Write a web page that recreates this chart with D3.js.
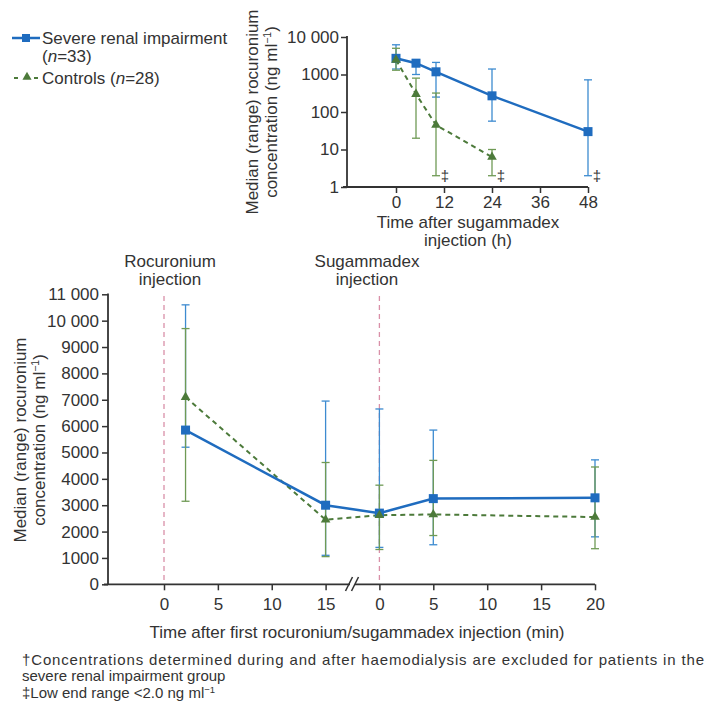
<!DOCTYPE html>
<html><head><meta charset="utf-8">
<script src="https://cdn.jsdelivr.net/npm/d3@7"></script>
<style>body{margin:0;background:#fff}svg{display:block}text{font-family:"Liberation Sans",Arial,sans-serif;fill:#333}</style>
</head><body>
<script>
// ---------- DATA ----------
// Top panel (log scale): time after sugammadex (h)
const topSevereHours = [0, 5, 10, 24, 48];
const topSevereMedian = [2700, 2000, 1180, 270, 30];
const topSevereLow = [1400, 1000, 250, 57, 2];
const topSevereHigh = [6200, 2500, 2100, 1400, 720];
const topControlHours = [0, 5, 10, 24];
const topControlMedian = [2450, 300, 45, 6.3];
const topControlLow = [1300, 20, 2, 2];
const topControlHigh = [5000, 800, 320, 10];
const daggerHours = [10, 24, 48];
const topXTicks = [0, 12, 24, 36, 48];
const topYTicks = [1, 10, 100, 1000, 10000];

// Bottom panel: time after first rocuronium / sugammadex injection (min)
const bottomPhase = ["roc", "roc", "sug", "sug", "sug"];
const bottomMinutes = [2, 15, 0, 5, 20];
const bottomSevereMedian = [5850, 3000, 2700, 3250, 3280];
const bottomSevereLow = [5200, 1100, 1400, 1500, 1800];
const bottomSevereHigh = [10600, 6950, 6650, 5850, 4720];
const bottomControlMedian = [7100, 2450, 2620, 2650, 2550];
const bottomControlLow = [3150, 1050, 1320, 1850, 1350];
const bottomControlHigh = [9700, 4620, 3760, 4700, 4450];
const rocTicks = [0, 5, 10, 15];
const sugTicks = [0, 5, 10, 15, 20];
const bottomYTicks = d3.range(0, 11001, 1000);

const BLUE = "#1f6cbf", BLUE_BAR = "#3d8bd0";
const GREEN = "#4c7a3a", GREEN_BAR = "#6f9a55";
const FONT = 17;

const svg = d3.select("body").append("svg").attr("width", 712).attr("height", 704);
svg.append("rect").attr("width", 712).attr("height", 704).attr("fill", "#fff");

const fmt = d => d >= 10000 ? d3.format(",")(d).replace(/,/g, " ") : String(d);

function styleAxis(g) {
  g.selectAll("path.domain").remove();
  g.selectAll(".tick line").attr("stroke", "#333").attr("stroke-width", 1.5);
  g.selectAll(".tick text").attr("font-size", FONT).attr("fill", "#333")
    .attr("font-family", '"Liberation Sans",Arial,sans-serif');
}

// ---------- LEGEND ----------
const leg = svg.append("g");
leg.append("line").attr("x1", 12).attr("x2", 40).attr("y1", 38).attr("y2", 38).attr("stroke", BLUE).attr("stroke-width", 2.5);
leg.append("rect").attr("x", 22).attr("y", 34).attr("width", 8).attr("height", 8).attr("fill", BLUE);
leg.append("text").attr("x", 42).attr("y", 44).attr("font-size", FONT).text("Severe renal impairment");
const t2 = leg.append("text").attr("x", 42).attr("y", 62).attr("font-size", FONT);
t2.append("tspan").text("(");
t2.append("tspan").attr("font-style", "italic").text("n");
t2.append("tspan").text("=33)");
leg.append("line").attr("x1", 14).attr("x2", 40).attr("y1", 78).attr("y2", 78).attr("stroke", GREEN).attr("stroke-width", 2).attr("stroke-dasharray", "4,6");
leg.append("path").attr("d", d3.symbol(d3.symbolTriangle, 36)()).attr("transform", "translate(27,77)").attr("fill", GREEN);
const t3 = leg.append("text").attr("x", 42).attr("y", 84).attr("font-size", FONT);
t3.append("tspan").text("Controls (");
t3.append("tspan").attr("font-style", "italic").text("n");
t3.append("tspan").text("=28)");

// ---------- TOP PANEL ----------
const xT = d3.scaleLinear().domain([0, 48]).range([396, 588]);
const yT = d3.scaleLog().domain([1, 10000]).range([187, 37]);
const topG = svg.append("g");
topG.append("line").attr("x1", 343).attr("x2", xT(48)).attr("y1", 187).attr("y2", 187).attr("stroke", "#333").attr("stroke-width", 1.8);
topG.append("line").attr("x1", 347).attr("x2", 347).attr("y1", 36).attr("y2", 188).attr("stroke", "#333").attr("stroke-width", 1.8);
const gxT = topG.append("g").attr("transform", "translate(0,187)")
  .call(d3.axisBottom(xT).tickValues(topXTicks).tickSize(6).tickPadding(3));
styleAxis(gxT);
const gyT = topG.append("g").attr("transform", "translate(347,0)")
  .call(d3.axisLeft(yT).tickValues(topYTicks).tickFormat(fmt).tickSize(6).tickPadding(2));
styleAxis(gyT);

function errBars(g, xs, lows, highs, color, xf, yf) {
  xs.forEach((x, i) => {
    const px = xf(x);
    g.append("line").attr("x1", px).attr("x2", px).attr("y1", yf(lows[i])).attr("y2", yf(highs[i])).attr("stroke", color).attr("stroke-width", 1.3);
    [lows[i], highs[i]].forEach(v => g.append("line").attr("x1", px - 4).attr("x2", px + 4).attr("y1", yf(v)).attr("y2", yf(v)).attr("stroke", color).attr("stroke-width", 1.3));
  });
}

errBars(topG, topSevereHours, topSevereLow, topSevereHigh, BLUE_BAR, xT, yT);
errBars(topG, topControlHours, topControlLow, topControlHigh, GREEN_BAR, xT, yT);
topG.append("path").datum(topSevereHours.map((h, i) => [xT(h), yT(topSevereMedian[i])]))
  .attr("d", d3.line()).attr("fill", "none").attr("stroke", BLUE).attr("stroke-width", 2.5);
topG.append("path").datum(topControlHours.map((h, i) => [xT(h), yT(topControlMedian[i])]))
  .attr("d", d3.line()).attr("fill", "none").attr("stroke", GREEN).attr("stroke-width", 2).attr("stroke-dasharray", "5,4");
topSevereHours.forEach((h, i) => topG.append("rect").attr("x", xT(h) - 4.5).attr("y", yT(topSevereMedian[i]) - 4.5).attr("width", 9).attr("height", 9).attr("fill", BLUE));
topControlHours.forEach((h, i) => topG.append("path").attr("d", d3.symbol(d3.symbolTriangle, 40)()).attr("transform", `translate(${xT(h)},${yT(topControlMedian[i])})`).attr("fill", GREEN));
daggerHours.forEach(h => topG.append("text").attr("x", xT(h) + 9).attr("y", yT(2) + 5).attr("font-size", 15)
  .attr("font-family", '"DejaVu Sans",sans-serif').style("fill", "#333").attr("text-anchor", "middle").text("‡"));

// rotated two-line titles
function rotTitle(cy, lines, fs) {
  lines.forEach(ln => {
    const t = svg.append("text").attr("transform", `translate(${ln.x},${cy}) rotate(-90)`).attr("text-anchor", "middle").attr("font-size", fs);
    ln.parts.forEach(p => {
      const s = t.append("tspan").text(p.t);
      if (p.sup) s.attr("baseline-shift", "super").attr("font-size", fs * 0.62);
    });
  });
}
rotTitle(112, [
  {x: 258, parts: [{t: "Median (range) rocuronium"}]},
  {x: 277, parts: [{t: "concentration (ng ml"}, {t: "−1", sup: true}, {t: ")"}]}
], FONT);
svg.append("text").attr("x", 468).attr("y", 228).attr("text-anchor", "middle").attr("font-size", FONT).text("Time after sugammadex");
svg.append("text").attr("x", 468).attr("y", 246).attr("text-anchor", "middle").attr("font-size", FONT).text("injection (h)");

// ---------- BOTTOM PANEL ----------
const xRoc = d3.scaleLinear().domain([0, 15]).range([164, 325.6]);
const xSug = d3.scaleLinear().domain([0, 20]).range([379.4, 595]);
const yB = d3.scaleLinear().domain([0, 11000]).range([584.3, 294.3]);
const xB = (phase, m) => phase === "roc" ? xRoc(m) : xSug(m);
const botG = svg.append("g");

// injection markers
[xRoc(0), xSug(0)].forEach(x => botG.append("line").attr("x1", x).attr("x2", x).attr("y1", 296).attr("y2", 584).attr("stroke", "#d990a8").attr("stroke-width", 1.3).attr("stroke-dasharray", "5,4"));
svg.append("text").attr("x", 170).attr("y", 267).attr("text-anchor", "middle").attr("font-size", FONT).text("Rocuronium");
svg.append("text").attr("x", 170).attr("y", 285).attr("text-anchor", "middle").attr("font-size", FONT).text("injection");
svg.append("text").attr("x", 367).attr("y", 267).attr("text-anchor", "middle").attr("font-size", FONT).text("Sugammadex");
svg.append("text").attr("x", 367).attr("y", 285).attr("text-anchor", "middle").attr("font-size", FONT).text("injection");

// axes
botG.append("line").attr("x1", 104).attr("x2", 595).attr("y1", 584.3).attr("y2", 584.3).attr("stroke", "#333").attr("stroke-width", 1.8);
botG.append("line").attr("x1", 108).attr("x2", 108).attr("y1", 293.5).attr("y2", 585).attr("stroke", "#333").attr("stroke-width", 1.8);
const gxR = botG.append("g").attr("transform", "translate(0,584.3)").call(d3.axisBottom(xRoc).tickValues(rocTicks).tickSize(6).tickPadding(8));
styleAxis(gxR);
const gxS = botG.append("g").attr("transform", "translate(0,584.3)").call(d3.axisBottom(xSug).tickValues(sugTicks).tickSize(6).tickPadding(8));
styleAxis(gxS);
const gyB = botG.append("g").attr("transform", "translate(108,0)").call(d3.axisLeft(yB).tickValues(bottomYTicks).tickFormat(fmt).tickSize(6).tickPadding(3));
styleAxis(gyB);
// axis break
botG.append("rect").attr("x", 350).attr("y", 580).attr("width", 5).attr("height", 9).attr("fill", "#fff");
[349, 355].forEach(x => botG.append("line").attr("x1", x - 3.5).attr("x2", x + 3.5).attr("y1", 591).attr("y2", 577).attr("stroke", "#333").attr("stroke-width", 1.6));

const bxs = bottomPhase.map((p, i) => xB(p, bottomMinutes[i]));
function errBarsPx(g, pxs, lows, highs, color) {
  pxs.forEach((px, i) => {
    g.append("line").attr("x1", px).attr("x2", px).attr("y1", yB(lows[i])).attr("y2", yB(highs[i])).attr("stroke", color).attr("stroke-width", 1.3);
    [lows[i], highs[i]].forEach(v => g.append("line").attr("x1", px - 4).attr("x2", px + 4).attr("y1", yB(v)).attr("y2", yB(v)).attr("stroke", color).attr("stroke-width", 1.3));
  });
}
errBarsPx(botG, bxs, bottomSevereLow, bottomSevereHigh, BLUE_BAR);
errBarsPx(botG, bxs, bottomControlLow, bottomControlHigh, GREEN_BAR);
botG.append("path").datum(bxs.map((x, i) => [x, yB(bottomControlMedian[i])]))
  .attr("d", d3.line()).attr("fill", "none").attr("stroke", GREEN).attr("stroke-width", 2).attr("stroke-dasharray", "5,4");
botG.append("path").datum(bxs.map((x, i) => [x, yB(bottomSevereMedian[i])]))
  .attr("d", d3.line()).attr("fill", "none").attr("stroke", BLUE).attr("stroke-width", 2.5);
bxs.forEach((x, i) => botG.append("rect").attr("x", x - 4.5).attr("y", yB(bottomSevereMedian[i]) - 4.5).attr("width", 9).attr("height", 9).attr("fill", BLUE));
bxs.forEach((x, i) => botG.append("path").attr("d", d3.symbol(d3.symbolTriangle, 40)()).attr("transform", `translate(${x},${yB(bottomControlMedian[i])})`).attr("fill", GREEN));

rotTitle(440, [
  {x: 26, parts: [{t: "Median (range) rocuronium"}]},
  {x: 45, parts: [{t: "concentration (ng ml"}, {t: "−1", sup: true}, {t: ")"}]}
], FONT);
svg.append("text").attr("x", 357).attr("y", 638).attr("text-anchor", "middle").attr("font-size", FONT).text("Time after first rocuronium/sugammadex injection (min)");

// footnotes
const FN = 15;
svg.append("text").attr("x", 22).attr("y", 665).attr("font-size", FN)
  .attr("textLength", 682).attr("lengthAdjust", "spacing")
  .text("†Concentrations determined during and after haemodialysis are excluded for patients in the");
svg.append("text").attr("x", 22).attr("y", 680.5).attr("font-size", FN).text("severe renal impairment group");
const fn3 = svg.append("text").attr("x", 22).attr("y", 697.5).attr("font-size", FN);
fn3.append("tspan").text("‡Low end range <2.0 ng ml");
fn3.append("tspan").attr("baseline-shift", "super").attr("font-size", 9.5).text("−1");
</script>
</body></html>
